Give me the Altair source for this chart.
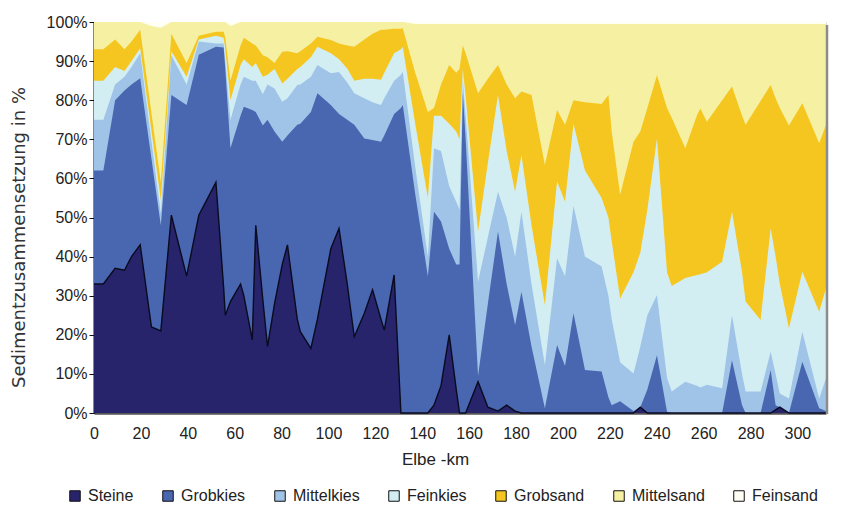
import altair as alt
import pandas as pd

# Elbe-km positions of the samples
km = [0, 4, 9, 13, 16, 19.7, 24.5, 28.5, 33, 39.5, 44.7, 52, 55.3, 56, 58.2, 62.5, 63.9, 67.5, 69, 72,
      74, 77, 80.3, 82.5, 86.7, 88, 92.5, 95.3, 101, 104.5, 108, 111, 115.3, 118.8, 122.4, 123.8, 128,
      130.9, 131.7, 137, 142.4, 145, 148, 151.5, 154.5, 155.9, 157.3, 158.5, 163.8, 168, 172.3, 176, 179.6, 182.3,
      186.6, 192.3, 197.5, 200.9, 204.5, 209.4, 216.5, 219.4, 220.8, 224.4, 230.1, 233, 236, 240.1, 244.4,
      246.4, 252.2, 257.2, 258.6, 261.4, 267.9, 272.1, 276.4, 277.9, 284.3, 288.6, 290.7, 292.5, 296.4,
      302.1, 309.3, 312.2]

# cumulative upper boundaries (%)
top_steine = [33, 33, 37, 36.5, 40, 43, 22, 21, 50.6, 35, 50.6, 59, 32, 25, 28.5, 33, 30, 18.7, 48, 29,
              17, 28, 38, 43, 24, 20.8, 16.5, 24, 42, 47.2, 33, 19.5, 25.5, 31.5, 24, 21.2, 35.3,
              0, 0, 0, 0, 2, 7, 20, 6, 0, 0, 0, 8, 1.5, 0.5, 2, 0.5, 0,
              0, 0, 0, 0, 0, 0, 0, 0, 0, 0, 0, 1.5, 0, 0, 0,
              0, 0, 0, 0, 0, 0, 0, 0, 0, 0, 0, 0.8, 1.5, 0,
              0, 0, 0]
top_grobkies = [62, 62, 80, 82.5, 84, 85.6, 65, 48, 81.3, 78.8, 91.6, 93.7, 93.5, 88, 67.7, 76, 78.3, 77.5, 77, 73.5,
                75, 72, 69.4, 71, 73.7, 74, 77, 81.8, 78.8, 76.5, 75, 73.7, 70.2, 69.8, 69.4, 71, 76.5,
                78, 78.8, 56, 35, 51.5, 49, 42, 38, 38, 82, 70, 9.5, 28, 46.4, 33, 22.5, 31,
                17, 1.2, 17.4, 12, 25.5, 11, 10.6, 4, 2, 3, 0.5, 1.5, 6, 14.8, 0.3,
                0, 0, 0, 0, 0, 0, 13.5, 2, 0, 0, 11, 2, 1.5, 0,
                13.1, 1.2, 0.5]
top_mittelkies = [75, 75, 84, 86, 88.5, 92, 69.6, 51, 91.5, 84, 95, 94.5, 94.5, 90, 75, 84, 86, 85, 85, 81.5,
                  84, 83, 79.6, 80.5, 83.9, 84, 86, 89, 86.9, 87.2, 84.5, 81.8, 80.5, 79.5, 78.8, 80.5, 85,
                  86.5, 87.3, 63, 40, 67.7, 67, 58, 54, 52, 85, 76, 33.6, 45, 56.6, 50, 40, 51.5,
                  33, 12.3, 39.6, 35, 53, 40, 37.5, 30, 24, 13, 10.1, 17, 25, 30.2, 9,
                  5.5, 8, 7, 6.5, 7.2, 6.3, 25, 10, 5.5, 5.5, 15.7, 10, 5, 3.7,
                  20.8, 3.7, 8.9]
top_feinkies = [85, 85, 88.5, 87.5, 90, 93.3, 72.2, 54.5, 92.5, 86, 95.5, 96.5, 96, 93, 80, 89, 90.5, 88.5, 89.5, 86,
                86.5, 88, 84.3, 85.5, 88, 88.5, 91, 93.7, 92, 90.5, 88.1, 85, 85.5, 85.5, 85.2, 87, 92,
                93, 93.6, 74, 55, 76, 76, 74, 72, 70, 88, 81, 46.4, 64, 81.3, 67, 56.6, 66,
                48, 27.6, 59.2, 54, 74, 62, 55, 50, 44, 29.3, 36, 41, 52, 70.2, 36,
                32.5, 34.5, 35.3, 35.5, 36, 38.7, 51.5, 36, 28.5, 23.8, 47.2, 40, 33, 21.7,
                36.1, 25.9, 31.9]
top_grobsand = [93, 93, 95.5, 93, 95, 98, 76.7, 59, 97, 89.5, 96.5, 97.5, 97.5, 96, 85, 94, 96, 94.5, 94, 91.5,
                91, 89.5, 92.4, 92.5, 92, 92.5, 94.5, 96.2, 95.4, 94.5, 94, 93.7, 95.5, 97, 98, 98, 98.3,
                98.3, 98.4, 87, 77, 78, 84, 89, 87, 88, 94, 92, 81.8, 85.5, 89, 84, 80.5, 82.2,
                81.3, 63.4, 77.5, 73.7, 80, 79.5, 79, 81.3, 72, 55.8, 69.4, 72, 78, 86.4, 78,
                75.5, 67.7, 76.2, 77.9, 74.5, 80, 83.5, 76, 73.7, 79.8, 83.9, 80.5, 78, 73.5,
                79.2, 69, 73.7]
top_mittelsand = [100, 100, 100, 100, 100, 100, 99, 98.5, 100, 100, 100, 100, 100, 100, 99, 100, 100, 100, 100, 100,
                  100, 100, 100, 100, 100, 100, 100, 100, 100, 100, 100, 100, 100, 100, 100, 100, 100,
                  100, 100, 99.5, 99.5, 99.5, 99.5, 99.5, 99.5, 99.5, 99.5, 99.5, 99.5, 99.5, 99.5, 99.5, 99.5, 99.5,
                  99.5, 99.5, 99.5, 99.5, 99.5, 99.5, 99.5, 99.5, 99.5, 99.5, 99.5, 99.5, 99.5, 99.5, 99.5,
                  99.5, 99.5, 99.5, 99.5, 99.5, 99.5, 99.5, 99.5, 99.5, 99.5, 99.5, 99.5, 99.5, 99.5,
                  99.5, 99.5, 99.5]
top_feinsand = [100] * len(km)

classes = ["Steine", "Grobkies", "Mittelkies", "Feinkies", "Grobsand", "Mittelsand", "Feinsand"]
colors = ["#27246b", "#4867b0", "#a0c4e8", "#d3eef3", "#f5c620", "#f5f0a2", "#fffff3"]
tops = [top_steine, top_grobkies, top_mittelkies, top_feinkies, top_grobsand, top_mittelsand, top_feinsand]

rows = []
for name, top in zip(classes, tops):
    for k, v in zip(km, top):
        rows.append({"km": k, "Klasse": name, "oben": v})
df = pd.DataFrame(rows)

FONT = "Liberation Sans"

x_enc = alt.X("km:Q", scale=alt.Scale(domain=[0, 312.2], nice=False, zero=False),
              axis=alt.Axis(values=list(range(0, 301, 20)), title="Elbe -km", ticks=False,
                            labelPadding=12, labelFontSize=16, labelFont=FONT, labelColor="#222",
                            labelFlush=False, domainColor="#555", domainWidth=2.5, grid=False,
                            titleFont=FONT, titleFontSize=17, titleFontWeight="normal",
                            titleColor="#222", titleX=341, titleY=38, titleBaseline="top",
                            titleAlign="center"))
y_enc = alt.Y("oben:Q", stack=None, scale=alt.Scale(domain=[0, 100], nice=False),
              axis=alt.Axis(values=list(range(0, 101, 10)), labelExpr="datum.value + '%'",
                            title="Sedimentzusammensetzung in %", tickSize=5, tickColor="#111",
                            labelPadding=2, labelFontSize=16, labelFont=FONT, labelColor="#222",
                            domainColor="#111", domainWidth=2, grid=False,
                            titleFont="DejaVu Sans", titleFontSize=18, titleFontWeight="normal",
                            titleColor="#333", titleX=-75, titleY=215, titleAlign="center",
                            titleBaseline="middle", titleAngle=270))
color_enc = alt.Color("Klasse:N", scale=alt.Scale(domain=classes, range=colors),
                      legend=alt.Legend(orient="none", legendX=-27, legendY=466, direction="horizontal",
                                        columns=7, title=None, symbolType="square", symbolSize=110,
                                        symbolStrokeColor="#111", symbolStrokeWidth=1,
                                        labelFontSize=16, labelFont=FONT, labelColor="#222",
                                        labelOffset=5, columnPadding=26, symbolOpacity=1))

base = alt.Chart(df)
layers = []
for name in reversed(classes):
    layers.append(
        base.transform_filter(alt.datum.Klasse == name)
        .mark_area(interpolate="linear", opacity=1)
        .encode(x=x_enc, y=y_enc, color=color_enc)
    )

steine_line = (base.transform_filter(alt.datum.Klasse == "Steine")
               .mark_line(color="#0a0a20", strokeWidth=1.4, interpolate="linear")
               .encode(x=x_enc, y=y_enc))

frame_right = (alt.Chart(pd.DataFrame({"a": [0]}))
               .mark_rule(color="#8c8c8c", strokeWidth=2.5)
               .encode(x=alt.value(733), y=alt.value(3), y2=alt.value(392)))

chart = (alt.layer(*layers, steine_line, frame_right)
         .properties(width=732, height=391,
                     autosize=alt.AutoSizeParams(type="none"),
                     padding={"left": 86, "top": 14, "right": 16, "bottom": 92})
         .configure_view(stroke=None)
         .configure(background="white"))

chart.save("out.html", embed_options={"renderer": "svg", "actions": False})
